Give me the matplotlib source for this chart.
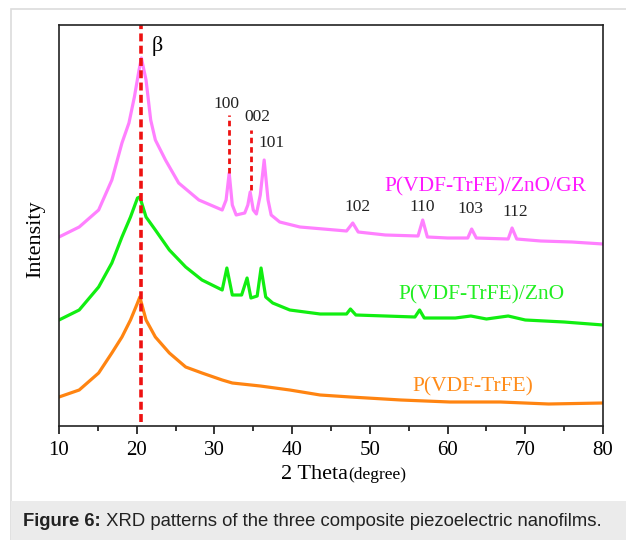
import matplotlib
matplotlib.use("Agg")
import matplotlib.pyplot as plt
from matplotlib.patches import Rectangle

# 2 theta positions (degree) and intensities (a.u.)
gr_theta = [10, 12.6, 15.1, 16.8, 18.1, 19.0, 19.7, 20.3, 20.6, 21.2, 21.8, 22.4,
            23.7, 25.4, 28.0, 31.0, 31.5, 31.9, 32.3, 32.8, 33.9, 34.3, 34.6, 35.0,
            35.4, 35.9, 36.4, 36.9, 37.3, 38.4, 41, 44, 47, 47.8, 48.5, 52, 56.2,
            56.8, 57.4, 60, 62.6, 63.1, 63.7, 67.8, 68.3, 68.9, 72, 76, 80]
gr_int = [189, 199, 216, 246, 283, 303, 329, 356, 368, 346, 306, 286,
          266, 243, 226, 216, 226, 253, 221, 211, 213, 221, 234, 216,
          212, 231, 266, 226, 211, 204, 199, 197, 195, 203, 194, 191, 190,
          206, 189, 188, 188, 197, 188, 187, 198, 187, 185, 184, 182]

zno_theta = [10, 12.6, 15.1, 16.8, 18.1, 19.2, 20.1, 20.4, 21.2, 22.4, 24.2, 26.3,
             28.4, 31.0, 31.6, 32.3, 33.5, 34.2, 34.7, 35.5, 36.0, 36.6, 37.5,
             39.7, 43.6, 47.0, 47.5, 48.2, 52, 55.8, 56.4, 57.0, 61, 63, 65, 67.8,
             70, 75, 80]
zno_int = [106, 116, 139, 163, 189, 209, 228, 229, 209, 196, 176, 159,
           146, 136, 158, 131, 131, 148, 128, 130, 158, 129, 123,
           116, 112, 112, 117, 111, 110, 109, 116, 108, 108, 110, 107, 110,
           106, 104, 101]

pure_theta = [10, 12.6, 15.1, 16.8, 18.1, 19.2, 20.1, 20.4, 21.2, 22.4, 24.2, 26.3,
              28.4, 31.0, 32.3, 35.9, 39.7, 43.6, 47.5, 54, 60.3, 66.8, 73, 80]
pure_int = [29, 36, 53, 73, 89, 106, 123, 129, 106, 89, 73, 59,
            53, 46, 43, 40, 36, 31, 29, 26, 24, 24, 22, 23]

# ZnO reflections: label, label centre (degree), label height
zno_peaks = ["100", "002", "101", "102", "110", "103", "112"]
zno_lab_x = [31.6, 35.5, 37.3, 48.4, 56.8, 63.0, 68.7]
zno_lab_y = [322, 309, 283, 219, 219, 217, 214]

serif = "Liberation Serif"

fig = plt.figure(figsize=(6.26, 5.40), dpi=100)
fig.patches.append(Rectangle((11 / 626, 0), 1.0, 531 / 540, transform=fig.transFigure,
                             facecolor="white", edgecolor="#dcdcdc", lw=1.2, zorder=-2))
fig.patches.append(Rectangle((11 / 626, 0), 1.0, 39 / 540, transform=fig.transFigure,
                             facecolor="#ebebeb", edgecolor="none", zorder=-1))

ax = fig.add_axes([59 / 626, 114 / 540, 544 / 626, 401 / 540])
ax.plot(gr_theta, gr_int, color="#ff80ff", lw=2.3)
ax.plot(zno_theta, zno_int, color="#11ee11", lw=2.3)
ax.plot(pure_theta, pure_int, color="#ff8411", lw=2.3)

# beta phase line and ZnO markers
ax.axvline(20.5, ymin=0.01, ymax=1, color="#ee1111", ls=(0, (2.2, 1.2)), lw=2.6)
ax.plot([31.9, 31.9], [253, 311], color="#ee1111", ls=(0, (2, 1.4)), lw=2.0)
ax.plot([34.75, 34.75], [236, 296], color="#ee1111", ls=(0, (2, 1.4)), lw=2.0)

ax.text(22.6, 380, "β", fontsize=16, family=serif, ha="center", va="center")
for lab, p, yy in zip(zno_peaks, zno_lab_x, zno_lab_y):
    ax.text(p, yy, lab, fontsize=12.5, family=serif, ha="center", va="center",
            color="#222222")

ax.text(64.9, 239, "P(VDF-TrFE)/ZnO/GR", fontsize=15.5, family=serif, color="#ff1aff",
        ha="center", va="center")
ax.text(64.4, 131, "P(VDF-TrFE)/ZnO", fontsize=15.5, family=serif, color="#22ee22",
        ha="center", va="center")
ax.text(63.2, 39, "P(VDF-TrFE)", fontsize=15.5, family=serif, color="#ff8c1a",
        ha="center", va="center")

ax.set_xlim(10, 80)
ax.set_ylim(0, 401)
ax.set_xticks(range(10, 81, 10))
ax.set_xticks(range(15, 80, 10), minor=True)
ax.set_yticks([])
ax.tick_params(axis="x", which="major", length=6, width=1.1, pad=5)
ax.tick_params(axis="x", which="minor", length=3.5, width=1.1)
for lbl in ax.get_xticklabels():
    lbl.set_family(serif)
    lbl.set_fontsize(15)
for s in ax.spines.values():
    s.set_linewidth(1.2)
    s.set_color("#222222")

# x label: "2 Theta" followed by a smaller "(degree)" on the same baseline
base_y = 1 - 479 / 540
t1 = fig.text(281 / 626, base_y, "2 Theta", fontsize=16, family=serif,
              ha="left", va="baseline")
fig.canvas.draw()
x_end = t1.get_window_extent().x1 / fig.bbox.width
fig.text(x_end, base_y, "(degree)", fontsize=12.5, family=serif, ha="left", va="baseline")

fig.text(36 / 626, 1 - 239 / 540, "Intensity", fontsize=16, family=serif,
         rotation=90, ha="center", va="center")

t2 = fig.text(23 / 626, 1 - 522 / 540, "Figure 6:", fontsize=13.3, family="Liberation Sans",
              weight="bold", ha="left", va="center", color="#222222")
ax.annotate(" XRD patterns of the three composite piezoelectric nanofilms.",
            xy=(1, 0.5), xycoords=t2, fontsize=13.3, family="Liberation Sans",
            ha="left", va="center", color="#222222")

fig.savefig("out.png", dpi=100)
